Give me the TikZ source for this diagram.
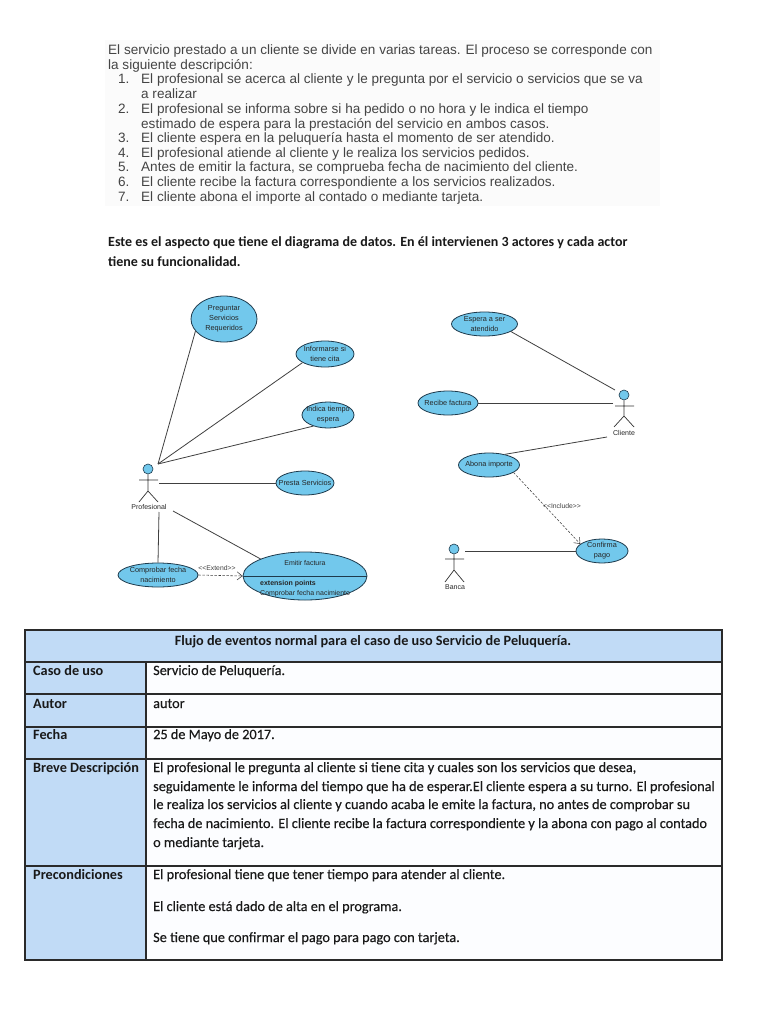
\documentclass[tikz,border=0pt]{standalone}
\usepackage{fontspec}
\setmainfont{Liberation Sans}
\newfontfamily\tablefont{Carlito}
\newfontfamily\cellfont[FakeBold=0.35]{Carlito}
\usetikzlibrary{shapes.geometric,arrows.meta}
\definecolor{usecase}{HTML}{72C8EC}
\definecolor{ucline}{HTML}{1E3A4C}
\definecolor{cellblue}{HTML}{C1DBF6}
\definecolor{cellwhite}{HTML}{FCFDFF}
\definecolor{toptext}{HTML}{444444}
\definecolor{rulegrey}{HTML}{2A2A2A}
\tikzset{
  x=1pt,y=-1pt,
  uc/.style={ellipse,draw=ucline,fill=usecase,line width=0.8pt,inner sep=0pt},
  uctext/.style={inner sep=0pt,align=center,font=\fontsize{7.3}{10}\selectfont,text=black!85},
  assoc/.style={draw=black!75,line width=0.8pt},
  dep/.style={draw=black!75,line width=0.55pt,dash pattern=on 2.4pt off 1.6pt,-{Straight Barb[length=5pt,width=8pt]}},
  actorlabel/.style={font=\fontsize{7}{9}\selectfont,text=black!85,inner sep=0pt},
  stereo/.style={font=\fontsize{6.8}{9}\selectfont,text=black!75,inner sep=0pt},
  toptxt/.style={anchor=base west,inner sep=0pt,text=toptext,font=\fontsize{13.55}{15}\selectfont},
  midtxt/.style={anchor=base west,inner sep=0pt,text=black!90,font=\tablefont\bfseries\fontsize{14}{15}\selectfont},
  headtxt/.style={anchor=base west,inner sep=0pt,text=black!90,font=\tablefont\bfseries\fontsize{14.25}{15}\selectfont},
  celltxt/.style={anchor=base west,inner sep=0pt,text=black!90,font=\cellfont\fontsize{14.25}{15}\selectfont},
  tablerule/.style={draw=rulegrey,line width=1.3pt},
  actorpart/.style={draw=black!80,line width=0.7pt},
  head/.style={circle,draw=ucline,fill=usecase,line width=0.6pt,minimum size=10pt,inner sep=0pt},
}
\begin{document}
\begin{tikzpicture}
\useasboundingbox (0,0) rectangle (768,1024);
\fill[white] (0,0) rectangle (768,1024);
\fill[black!1.5] (105,40) rectangle (660,206);
% top text
\node[toptxt] (t1) at (108,55) {El servicio prestado a un cliente se divide en varias tareas. El proceso se corresponde con};
\node[toptxt] (t2) at (108,69.5) {la siguiente descripción:};
\node[toptxt] (n1) at (118,84) {1.};
\node[toptxt] (l1) at (141,84) {El profesional se acerca al cliente y le pregunta por el servicio o servicios que se va};
\node[toptxt] (l1b) at (141,99) {a realizar};
\node[toptxt] (n2) at (118,113.5) {2.};
\node[toptxt] (l2) at (141,113.5) {El profesional se informa sobre si ha pedido o no hora y le indica el tiempo};
\node[toptxt] (l2b) at (141,128.5) {estimado de espera para la prestación del servicio en ambos casos.};
\node[toptxt] (n3) at (118,143) {3.};
\node[toptxt] (l3) at (141,143) {El cliente espera en la peluquería hasta el momento de ser atendido.};
\node[toptxt] (n4) at (118,158) {4.};
\node[toptxt] (l4) at (141,158) {El profesional atiende al cliente y le realiza los servicios pedidos.};
\node[toptxt] (n5) at (118,172) {5.};
\node[toptxt] (l5) at (141,172) {Antes de emitir la factura, se comprueba fecha de nacimiento del cliente.};
\node[toptxt] (n6) at (118,187) {6.};
\node[toptxt] (l6) at (141,187) {El cliente recibe la factura correspondiente a los servicios realizados.};
\node[toptxt] (n7) at (118,202) {7.};
\node[toptxt] (l7) at (141,202) {El cliente abona el importe al contado o mediante tarjeta.};
\node[midtxt] (m1) at (108,247) {Este es el aspecto que tiene el diagrama de datos. En él intervienen 3 actores y cada actor};
\node[midtxt] (m2) at (108,266) {tiene su funcionalidad.};
% use cases
\node[uc,minimum width=66pt,minimum height=46pt] (preguntar) at (224,319) {};
\node[uctext] (preguntarT) at (preguntar) {Preguntar\\Servicios\\Requeridos};
\node[uc,minimum width=58pt,minimum height=26pt] (informarse) at (325,354) {};
\node[uctext] (informarseT) at (informarse) {Informarse si\\tiene cita};
\node[uc,minimum width=52pt,minimum height=26pt] (indica) at (328,415) {};
\node[uctext] (indicaT) at (indica) {Indica tiempo\\espera};
\node[uc,minimum width=58pt,minimum height=24pt] (presta) at (305,483) {};
\node[uctext] (prestaT) at (presta) {Presta Servicios};
\node[uc,minimum width=124pt,minimum height=48pt] (emitir) at (305,576) {};
\node[uc,minimum width=80pt,minimum height=24pt] (comprobar) at (158,575) {};
\node[uctext] (comprobarT) at (comprobar) {Comprobar fecha\\nacimiento};
\node[uc,minimum width=66pt,minimum height=24pt] (espera) at (484.5,324) {};
\node[uctext] (esperaT) at (espera) {Espera a ser\\atendido};
\node[uc,minimum width=60pt,minimum height=24pt] (recibe) at (448,403) {};
\node[uctext] (recibeT) at (recibe) {Recibe factura};
\node[uc,minimum width=61pt,minimum height=24pt] (abona) at (489,465) {};
\node[uctext] (abonaT) at (abona) {Abona importe};
\node[uc,minimum width=52pt,minimum height=24pt] (confirma) at (602,551) {};
\node[uctext] (confirmaT) at (confirma) {Confirma\\pago};
\draw[draw=ucline,line width=0.8pt] (emitir.west) -- (emitir.east);
\node[actorlabel] (emitirT) at (305,563) {Emitir factura};
\node[actorlabel,anchor=base west] (extp) at (260,585) {\bfseries extension points};
\node[actorlabel,anchor=base west] (extc) at (260,595) {Comprobar fecha nacimiento};
% actors
\node[head] (profH) at (148,469) {};
\coordinate (profA) at (139,480);
\coordinate (profB) at (158,480);
\coordinate (profW) at (148,491);
\coordinate (profL) at (139,502);
\coordinate (profR) at (158,502);
\draw[actorpart] (profH) -- (profW) (profA) -- (profB) (profL) -- (profW) -- (profR);
\node[actorlabel] (prof) at (149,507) {Profesional};
\node[head] (cliH) at (624,395) {};
\coordinate (cliA) at (615,406);
\coordinate (cliB) at (634,406);
\coordinate (cliW) at (624,416);
\coordinate (cliL) at (614,427);
\coordinate (cliR) at (634,427);
\draw[actorpart] (cliH) -- (cliW) (cliA) -- (cliB) (cliL) -- (cliW) -- (cliR);
\node[actorlabel] (cli) at (624,433) {Cliente};
\node[head] (banH) at (454,549) {};
\coordinate (banA) at (445,559);
\coordinate (banB) at (464,559);
\coordinate (banW) at (454,570);
\coordinate (banL) at (445,582);
\coordinate (banR) at (464,582);
\draw[actorpart] (banH) -- (banW) (banA) -- (banB) (banL) -- (banW) -- (banR);
\node[actorlabel] (ban) at (455,587) {Banca};
% connector ends at the actors
\coordinate (pE1) at (158,464);
\coordinate (pE2) at (159,483);
\coordinate (pE3) at (159,512);
\coordinate (pE4) at (173,511);
\coordinate (cE1) at (615,390);
\coordinate (cE2) at (613,403);
\coordinate (cE3) at (607,437);
\coordinate (bE1) at (465,551);
\draw[assoc] (pE1) -- (preguntar.203);
\draw[assoc] (pE1) -- (informarse.201);
\draw[assoc] (pE1) -- (indica.217);
\draw[assoc] (pE2) -- (presta.west);
\draw[assoc] (pE3) -- (comprobar.90);
\draw[assoc] (pE4) -- (emitir.159);
\draw[dep] (comprobar.east) -- (emitir.west);
\node[stereo] (extend) at (217,568) {<{}<Extend>{}>};
\draw[assoc] (cE1) -- (espera.344);
\draw[assoc] (cE2) -- (recibe.east);
\draw[assoc] (cE3) -- (abona.34);
\draw[dep] (abona.343) -- (confirma.162);
\node[stereo] (include) at (562,506) {<{}<Include>{}>};
\draw[assoc] (bE1) -- (confirma.west);
% table
\fill[cellblue] (25,630) rectangle (722,662);
\fill[cellblue] (25,662) rectangle (146,960);
\fill[cellwhite] (146,662) rectangle (722,960);
\draw[tablerule] (25,630) rectangle (722,960);
\draw[tablerule] (25,662) -- (722,662);
\draw[tablerule] (25,694) -- (722,694);
\draw[tablerule,line width=1.6pt] (25,727) -- (722,727);
\draw[tablerule] (25,759) -- (722,759);
\draw[tablerule] (25,866) -- (722,866);
\draw[tablerule,line width=1.6pt] (146,662) -- (146,960);
\node[headtxt,anchor=base] (title) at (373,645) {Flujo de eventos normal para el caso de uso Servicio de Peluquería.};
\node[headtxt] (h1) at (33,675) {Caso de uso};
\node[celltxt] (c1) at (153,675) {Servicio de Peluquería.};
\node[headtxt] (h2) at (33,708) {Autor};
\node[celltxt] (c2) at (153,708) {autor};
\node[headtxt] (h3) at (33,739) {Fecha};
\node[celltxt] (c3) at (153,739) {25 de Mayo de 2017.};
\node[headtxt] (h4) at (33,772) {Breve Descripción};
\node[celltxt] (c4a) at (153,772) {El profesional le pregunta al cliente si tiene cita y cuales son los servicios que desea,};
\node[celltxt] (c4b) at (153,791) {seguidamente le informa del tiempo que ha de esperar.El cliente espera a su turno. El profesional};
\node[celltxt] (c4c) at (153,809) {le realiza los servicios al cliente y cuando acaba le emite la factura, no antes de comprobar su};
\node[celltxt] (c4d) at (153,828) {fecha de nacimiento. El cliente recibe la factura correspondiente y la abona con pago al contado};
\node[celltxt] (c4e) at (153,847) {o mediante tarjeta.};
\node[headtxt] (h5) at (33,879) {Precondiciones};
\node[celltxt] (c5a) at (153,879) {El profesional tiene que tener tiempo para atender al cliente.};
\node[celltxt] (c5b) at (153,911) {El cliente está dado de alta en el programa.};
\node[celltxt] (c5c) at (153,942) {Se tiene que confirmar el pago para pago con tarjeta.};
\end{tikzpicture}
\end{document}
